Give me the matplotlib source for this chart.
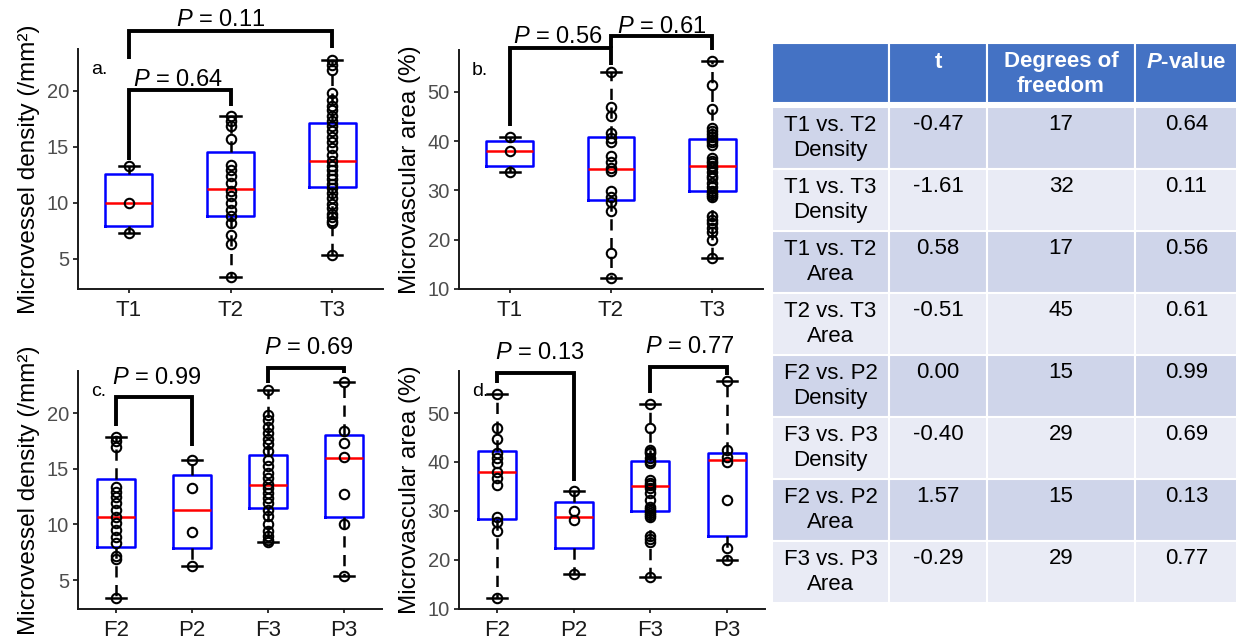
import numpy as np
import matplotlib
matplotlib.use("Agg")
import matplotlib.pyplot as plt
from matplotlib.patches import Rectangle

plt.rcParams.update({
    'font.family': 'Liberation Sans',
    'mathtext.fontset': 'custom',
    'mathtext.rm': 'Liberation Sans',
    'mathtext.it': 'Liberation Sans:italic',
    'mathtext.bf': 'Liberation Sans:bold',
    'mathtext.bfit': 'Liberation Sans:bold:italic',
})

# ---------------------------------------------------------------------
# data
# ---------------------------------------------------------------------
groups_t = ['T1', 'T2', 'T3']
groups_fp = ['F2', 'P2', 'F3', 'P3']

# microvessel density (/mm^2), per tumour grade
t1_density = [13.3, 10.0, 7.3]
t2_density = [17.8, 17.3, 16.9, 15.7, 13.4, 12.9, 12.4, 11.8, 11.1, 10.6,
              10.0, 9.4, 8.8, 8.2, 7.1, 6.3, 3.4]
t3_density = [22.8, 22.3, 21.9, 19.8, 19.2, 18.7, 18.3, 17.8, 17.3, 16.9,
              16.4, 15.9, 15.4, 14.9, 14.3, 13.7, 13.3, 12.9, 12.5, 12.1,
              11.7, 11.3, 10.9, 10.4, 9.9, 9.5, 9.0, 8.7, 8.4, 8.2, 5.3]
# (q1, median, q3)
density_t_box = [(7.95, 10.0, 12.56), (8.78, 11.2, 14.52), (11.38, 13.72, 17.17)]

# microvascular area (%), per tumour grade
t1_area = [40.9, 38.0, 33.8]
t2_area = [54.0, 46.9, 45.0, 41.6, 40.6, 39.9, 36.9, 35.7, 34.6, 34.0,
           29.8, 28.7, 27.7, 25.8, 17.2, 12.2]
t3_area = [56.3, 51.4, 46.5, 42.6, 42.0, 41.5, 40.9, 40.3, 39.9, 39.3,
           36.5, 36.0, 35.5, 35.0, 34.6, 33.8, 33.0, 32.5, 31.5, 30.6,
           29.8, 29.5, 29.1, 28.7, 24.7, 24.0, 23.3, 22.3, 21.5, 19.9, 16.2]
area_t_box = [(35.0, 38.0, 40.1), (28.0, 34.4, 40.9), (29.8, 35.0, 40.4)]

# density split by F / P
f2_density = [17.9, 17.5, 17.0, 13.4, 12.9, 12.5, 11.9, 11.3, 10.7, 10.1,
              9.5, 8.9, 8.3, 7.2, 6.9, 3.4]
p2_density = [15.8, 13.3, 9.3, 6.3]
f3_density = [22.1, 19.8, 19.4, 18.8, 18.2, 17.7, 17.2, 16.6, 15.8, 15.3,
              14.6, 14.2, 13.6, 13.3, 12.8, 12.4, 11.9, 11.3, 10.8, 10.0,
              9.4, 9.0, 8.6, 8.4]
p3_density = [22.8, 18.4, 17.3, 16.1, 12.7, 10.0, 5.4]
density_fp_box = [(7.99, 10.68, 14.13), (7.84, 11.28, 14.49),
                  (11.49, 13.53, 16.23), (10.68, 16.02, 18.09)]

# area split by F / P
f2_area = [54.0, 47.0, 44.8, 41.8, 40.8, 39.7, 38.0, 36.7, 35.2, 28.8,
           27.8, 25.8, 12.2]
p2_area = [34.1, 29.9, 28.2, 17.1]
f3_area = [51.8, 46.9, 42.4, 42.0, 41.8, 40.8, 40.2, 39.7, 36.3, 35.8,
           35.3, 34.6, 33.6, 32.2, 30.9, 30.4, 29.9, 29.5, 29.2, 28.8,
           24.8, 24.2, 23.7, 16.4]
p3_area = [56.5, 42.4, 41.1, 40.1, 32.2, 22.4, 20.0]
area_fp_box = [(28.4, 38.0, 42.2), (22.5, 28.8, 31.8),
               (29.9, 35.0, 40.2), (24.8, 40.4, 41.8)]

# t-test summary table
comparisons = ['T1 vs. T2\nDensity', 'T1 vs. T3\nDensity', 'T1 vs. T2\nArea',
               'T2 vs. T3\nArea', 'F2 vs. P2\nDensity', 'F3 vs. P3\nDensity',
               'F2 vs. P2\nArea', 'F3 vs. P3\nArea']
t_values = ['-0.47', '-1.61', '0.58', '-0.51', '0.00', '-0.40', '1.57', '-0.29']
dof = [17, 32, 17, 45, 15, 29, 15, 29]
p_values = ['0.64', '0.11', '0.56', '0.61', '0.99', '0.69', '0.13', '0.77']

# ---------------------------------------------------------------------
# figure
# ---------------------------------------------------------------------
W, H = 1236, 642
fig = plt.figure(figsize=(W / 100, H / 100), dpi=100)


def px_axes(left, top, right, bottom):
    return fig.add_axes([left / W, 1 - bottom / H, (right - left) / W, (bottom - top) / H])


def draw_panel(ax, names, samples, boxes, ylim, yticks, ylabel, letter,
               width, capw, brackets):
    pos = np.arange(1, len(names) + 1)
    stats = [dict(med=m, q1=a, q3=b, whislo=min(s), whishi=max(s), fliers=[])
             for s, (a, m, b) in zip(samples, boxes)]
    ax.bxp(stats, positions=pos, widths=width, capwidths=capw, showfliers=False,
           boxprops=dict(color='blue', lw=1.8),
           medianprops=dict(color='red', lw=1.8),
           whiskerprops=dict(color='black', lw=1.8, linestyle=(0, (4.5, 3))),
           capprops=dict(color='black', lw=1.8))
    for x, s in zip(pos, samples):
        ax.plot(np.full(len(s), x), s, 'o', mfc='none', mec='black', ms=6.8,
                mew=1.5, zorder=4, clip_on=False)

    # significance brackets: (i, j, top, left end, right end, p, text x, text y)
    for i, j, top, yl, yr, p, tx, ty in brackets:
        ax.plot([i, i, j, j], [yl, top, top, yr], color='black', lw=2.8,
                clip_on=False, solid_joinstyle='miter', solid_capstyle='butt', zorder=5)
        ax.text(tx, ty, '$P$ = ' + p, fontsize=17, ha='center', va='center')

    ax.set_xlim(0.5, len(names) + 0.5)
    ax.set_ylim(*ylim)
    ax.set_xticks(pos)
    ax.set_xticklabels(names)
    ax.set_yticks(yticks)
    for side in ('top', 'right'):
        ax.spines[side].set_visible(False)
    for side in ('left', 'bottom'):
        ax.spines[side].set_linewidth(1.4)
        ax.spines[side].set_color('#1a1a1a')
    ax.tick_params(axis='y', labelsize=14.5, labelcolor='#4d4d4d', color='#333333',
                   length=3.5, width=1.4, pad=3)
    ax.tick_params(axis='x', labelsize=16, labelcolor='#1a1a1a', color='#333333',
                   length=3, width=1.4, pad=5)
    ax.set_ylabel(ylabel, fontsize=17.5)
    ax.yaxis.set_label_coords(-0.125, 0.5)
    ax.text(0.042, 0.915, letter, transform=ax.transAxes, fontsize=14,
            ha='left', va='center')


ax_a = px_axes(78, 49, 383, 289)
ax_b = px_axes(459, 50, 763, 289)
ax_c = px_axes(78, 371, 382, 609)
ax_d = px_axes(459, 371, 765, 609)

draw_panel(ax_a, groups_t, [t1_density, t2_density, t3_density], density_t_box,
           (2.3, 23.75), [5, 10, 15, 20], 'Microvessel density (/mm²)', 'a.',
           0.46, 0.2,
           [(1, 2, 20.1, 13.84, 18.66, p_values[0], 1.48, 21.0),
            (1, 3, 25.36, 22.86, 23.84, p_values[1], 1.90, 26.3)])

draw_panel(ax_b, groups_t, [t1_area, t2_area, t3_area], area_t_box,
           (9.95, 58.5), [10, 20, 30, 40, 50], 'Microvascular area (%)', 'b.',
           0.46, 0.2,
           [(1, 2, 58.9, 43.1, 55.5, p_values[2], 1.48, 61.2),
            (2, 3, 61.4, 58.9, 58.5, p_values[3], 2.50, 63.2)])

draw_panel(ax_c, groups_fp, [f2_density, p2_density, f3_density, p3_density],
           density_fp_box, (2.4, 23.8), [5, 10, 15, 20],
           'Microvessel density (/mm²)', 'c.', 0.5, 0.26,
           [(1, 2, 21.43, 18.83, 17.04, p_values[4], 1.54, 23.2),
            (3, 4, 24.1, 22.7, 23.6, p_values[5], 3.54, 25.9)])

draw_panel(ax_d, groups_fp, [f2_area, p2_area, f3_area, p3_area], area_fp_box,
           (9.95, 58.6), [10, 20, 30, 40, 50], 'Microvascular area (%)', 'd.',
           0.5, 0.26,
           [(1, 2, 58.2, 56.1, 36.1, p_values[6], 1.55, 62.2),
            (3, 4, 59.4, 54.1, 57.8, p_values[7], 3.52, 63.5)])

# ---------------------------------------------------------------------
# summary table on the right
# ---------------------------------------------------------------------
tab = fig.add_axes([0, 0, 1, 1], zorder=-1)
tab.set_xlim(0, W)
tab.set_ylim(H, 0)
tab.axis('off')

col_x = [772, 889, 987, 1135, W + 2]
col_mid = [(a + b) / 2 for a, b in zip(col_x[:-1], col_x[1:])]
head_top, head_bot = 43, 103
row_top0, row_h = 107, 62

for a, b in zip(col_x[:-1], col_x[1:]):
    tab.add_patch(Rectangle((a, head_top), b - a, head_bot - head_top,
                            facecolor='#4472c4', edgecolor='white', lw=1.5))
header = ['', 't', 'Degrees of\nfreedom', r'$\mathbfit{P}$-value']
for k, txt in enumerate(header):
    if not txt:
        continue
    y = (head_top + head_bot) / 2 + 1 if '\n' in txt else head_top + 19
    tab.text(col_mid[k], y, txt, color='white', fontsize=16, fontweight='bold',
             ha='center', va='center', linespacing=1.3)

for r in range(len(comparisons)):
    top = row_top0 + r * row_h
    shade = '#cfd5ea' if r % 2 == 0 else '#e9ebf5'
    for a, b in zip(col_x[:-1], col_x[1:]):
        tab.add_patch(Rectangle((a, top), b - a, row_h, facecolor=shade,
                                edgecolor='white', lw=1.5))
    tab.text(col_mid[0], top + row_h / 2, comparisons[r], fontsize=16,
             ha='center', va='center', linespacing=1.3)
    for k, val in enumerate([t_values[r], str(dof[r]), p_values[r]]):
        tab.text(col_mid[k + 1], top + 17, val, fontsize=16,
                 ha='center', va='center')

fig.savefig('out.png', dpi=100)
